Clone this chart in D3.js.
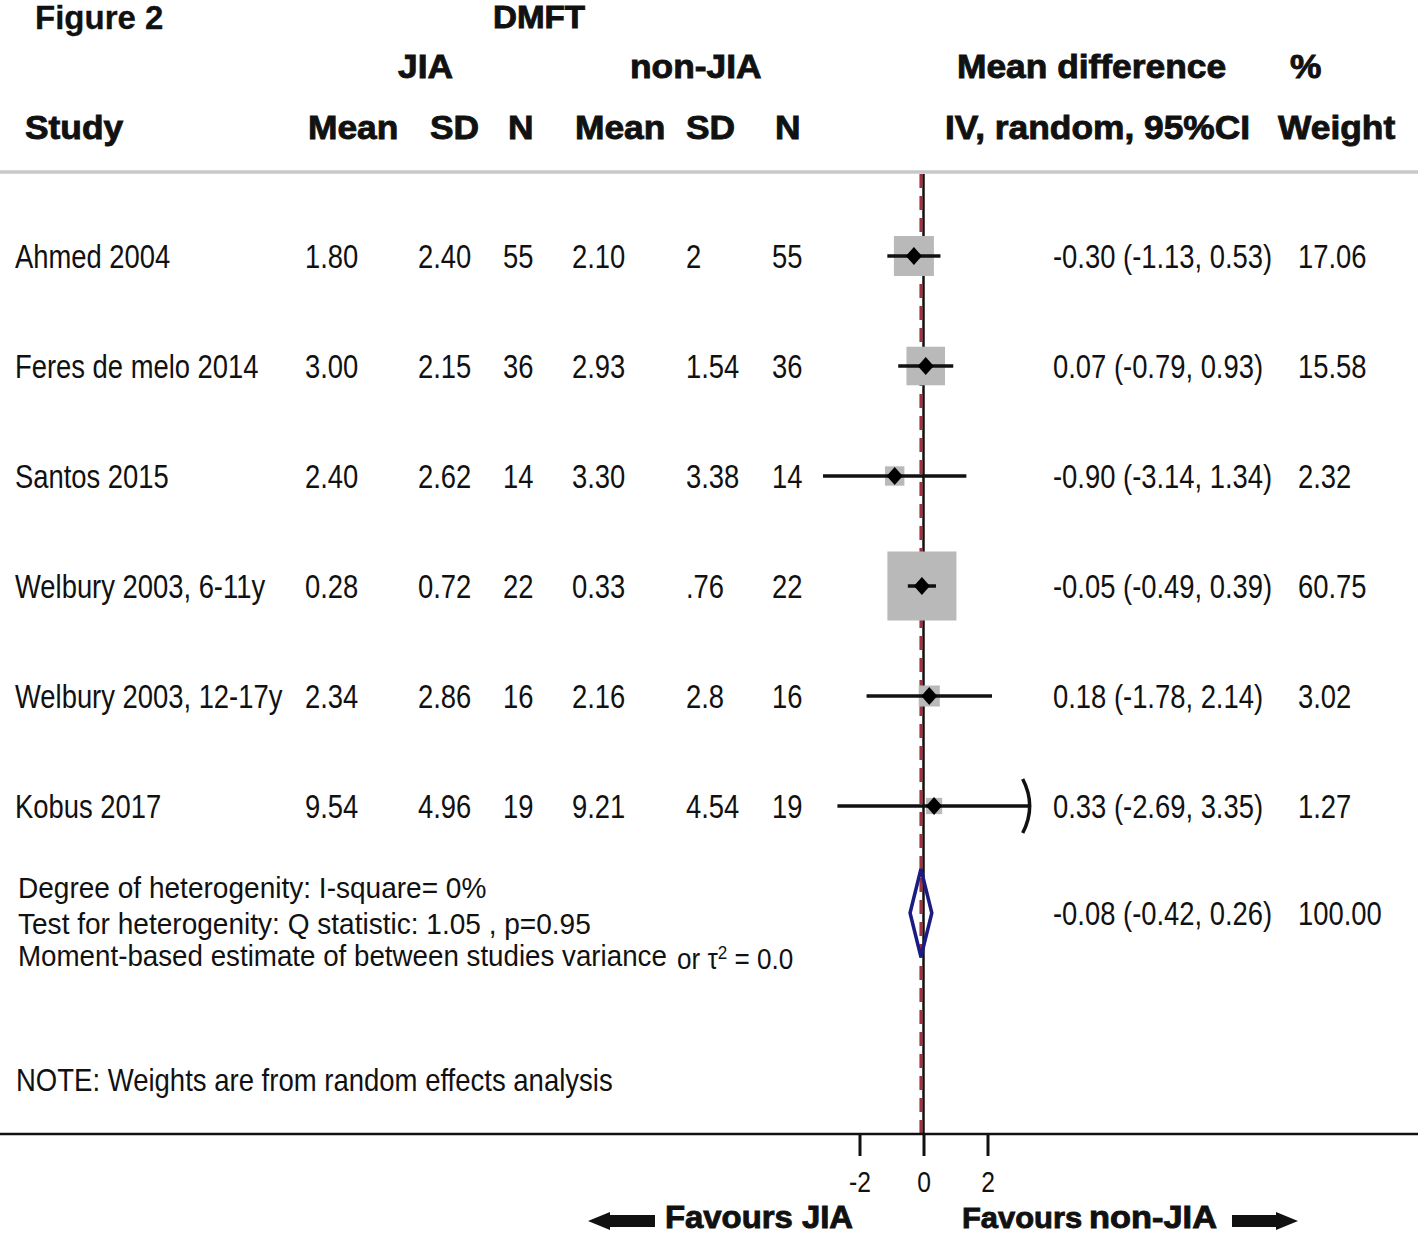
<!DOCTYPE html>
<html>
<head>
<meta charset="utf-8">
<script src="https://cdn.jsdelivr.net/npm/d3@7"></script>
<style>
html,body{margin:0;padding:0;background:#fff;}
svg{display:block;}
</style>
</head>
<body>
<svg id="chart" width="1418" height="1235"></svg>
<script>
// ---------- data ----------
const studies = ["Ahmed 2004","Feres de melo 2014","Santos 2015","Welbury 2003, 6-11y","Welbury 2003, 12-17y","Kobus 2017"];
const jiaMean = ["1.80","3.00","2.40","0.28","2.34","9.54"];
const jiaSD   = ["2.40","2.15","2.62","0.72","2.86","4.96"];
const jiaN    = ["55","36","14","22","16","19"];
const nonMean = ["2.10","2.93","3.30","0.33","2.16","9.21"];
const nonSD   = ["2","1.54","3.38",".76","2.8","4.54"];
const nonN    = ["55","36","14","22","16","19"];
const md      = [-0.30, 0.07, -0.90, -0.05, 0.18, 0.33];
const ciLow   = [-1.13, -0.79, -3.14, -0.49, -1.78, -2.69];
const ciHigh  = [0.53, 0.93, 1.34, 0.39, 2.14, 3.35];
const weights = [17.06, 15.58, 2.32, 60.75, 3.02, 1.27];
const pooled  = {md: -0.08, lo: -0.42, hi: 0.26, w: 100.00};
const tickVals = [-2, 0, 2];
const tickLabels = ["-2", "0", "2"];
const hetLines = ["Degree of heterogenity: I-square= 0%",
                  "Test for heterogenity: Q statistic: 1.05 , p=0.95",
                  "Moment-based estimate of between studies variance"];
const noteText = "NOTE: Weights are from random effects analysis";

// ---------- setup ----------
const svg = d3.select("#chart");
const W = 1418;
const x = d3.scaleLinear().domain([-2, 2]).range([859.5, 987.5]);
const y = d3.scaleLinear().domain([0, 6]).range([256, 916]);
const box = d3.scaleSqrt().domain([0, 100]).range([7.3, 86.5]);
const fmt2 = d3.format(".2f");
const fmtCI = v => (v < 0 ? "-" : "") + fmt2(Math.abs(v));

const BODY = "'Liberation Sans', Arial, sans-serif";
function txt(g, s, tx, ty, o = {}) {
  const t = g.append("text")
    .attr("transform", `translate(${tx},${ty}) scale(${o.sx ?? 0.83},1)`)
    .attr("font-family", BODY)
    .attr("font-size", o.size ?? 33)
    .attr("font-weight", o.bold ? "bold" : "normal")
    .attr("text-anchor", o.anchor ?? "start")
    .attr("fill", "#111")
    .text(s);
  if (o.bold) t.attr("stroke", "#111").attr("stroke-width", o.sw ?? 0.9);
  return t;
}

// ---------- header ----------
const hg = svg.append("g");
txt(hg, "Figure 2", 35, 29, {bold: true, size: 33, sx: 1.0, sw: 0.3});
txt(hg, "DMFT", 493, 28, {bold: true, size: 31, sx: 1.07});
const h1 = [["JIA", 398], ["non-JIA", 630], ["Mean difference", 957], ["%", 1290]];
h1.forEach(([s, px]) => txt(hg, s, px, 78, {bold: true, size: 34, sx: 1.04}));
const h2 = [["Study", 25], ["Mean", 308], ["SD", 430], ["N", 508], ["Mean", 575], ["SD", 686], ["N", 775], ["IV, random, 95%CI", 945], ["Weight", 1278]];
h2.forEach(([s, px]) => txt(hg, s, px, 139, {bold: true, size: 34, sx: 1.04}));

// top separator
svg.append("line").attr("x1", 0).attr("x2", W).attr("y1", 172).attr("y2", 172)
  .attr("stroke", "#c8c8c8").attr("stroke-width", 3.5);

// ---------- reference lines ----------
svg.append("line").attr("x1", x(0)).attr("x2", x(0)).attr("y1", 174).attr("y2", 1134)
  .attr("stroke", "#111").attr("stroke-width", 2.5);
svg.append("line").attr("x1", x(pooled.md)).attr("x2", x(pooled.md)).attr("y1", 174).attr("y2", 1134)
  .attr("stroke", "#a3303f").attr("stroke-width", 3).attr("stroke-dasharray", "14,8");

// ---------- rows ----------
const rows = svg.append("g");
studies.forEach((s, i) => {
  const ry = y(i);
  const by = ry + 12;
  txt(rows, s, 15, by);
  txt(rows, jiaMean[i], 305, by);
  txt(rows, jiaSD[i], 418, by);
  txt(rows, jiaN[i], 503, by);
  txt(rows, nonMean[i], 572, by);
  txt(rows, nonSD[i], 686, by);
  txt(rows, nonN[i], 772, by);
  txt(rows, `${fmtCI(md[i])} (${fmtCI(ciLow[i])}, ${fmtCI(ciHigh[i])})`, 1053, by);
  txt(rows, fmt2(weights[i]), 1298, by);

  const side = box(weights[i]);
  rows.append("rect")
    .attr("x", x(md[i]) - side / 2).attr("y", ry - side / 2)
    .attr("width", side).attr("height", side)
    .attr("fill", "#b9b9b9");
  rows.append("line")
    .attr("x1", x(ciLow[i])).attr("x2", x(ciHigh[i]))
    .attr("y1", ry).attr("y2", ry)
    .attr("stroke", "#111").attr("stroke-width", 3.5);
  const cx = x(md[i]);
  rows.append("path")
    .attr("d", `M${cx - 8},${ry} L${cx},${ry - 9} L${cx + 8},${ry} L${cx},${ry + 9} Z`)
    .attr("fill", "#000");
  if (i === studies.length - 1) {
    const ex = x(ciHigh[i]);
    rows.append("path")
      .attr("d", `M${ex - 8},${ry - 27} Q${ex + 6},${ry} ${ex - 8},${ry + 27}`)
      .attr("fill", "none").attr("stroke", "#111").attr("stroke-width", 3.5);
  }
});

// pooled
const py = y(6) - 3;
svg.append("path")
  .attr("d", `M${x(pooled.lo)},${py} L${x(pooled.md)},${py - 44} L${x(pooled.hi)},${py} L${x(pooled.md)},${py + 44} Z`)
  .attr("fill", "none").attr("stroke", "#1c1c80").attr("stroke-width", 3.5);
txt(rows, `${fmtCI(pooled.md)} (${fmtCI(pooled.lo)}, ${fmtCI(pooled.hi)})`, 1053, py + 12);
txt(rows, fmt2(pooled.w), 1298, py + 12);

// heterogeneity text
const het = svg.append("g");
txt(het, hetLines[0], 18, 898, {size: 30, sx: 0.935});
txt(het, hetLines[1], 18, 934, {size: 30, sx: 0.935});
txt(het, hetLines[2], 18, 966, {size: 30, sx: 0.925});
const tau = het.append("text")
  .attr("transform", "translate(677,969) scale(0.9,1)")
  .attr("font-family", BODY).attr("font-size", 29).attr("fill", "#111");
tau.append("tspan").text("or \u03C4");
tau.append("tspan").attr("font-size", 19).attr("dy", -10).text("2");
tau.append("tspan").attr("dy", 10).text(" = 0.0");

txt(svg, noteText, 16, 1091, {size: 32, sx: 0.86});

// ---------- axis ----------
svg.append("line").attr("x1", 0).attr("x2", W).attr("y1", 1134).attr("y2", 1134)
  .attr("stroke", "#111").attr("stroke-width", 2.5);
const ax = svg.append("g").attr("transform", "translate(0,1134)")
  .call(d3.axisBottom(x).tickValues(tickVals).tickSize(22).tickPadding(10)
        .tickFormat((d, i) => tickLabels[i]));
ax.select(".domain").remove();
ax.selectAll(".tick line").attr("stroke", "#111").attr("stroke-width", 3);
ax.selectAll(".tick text")
  .attr("font-family", BODY).attr("font-size", 29).attr("fill", "#111")
  .attr("transform", "scale(0.85,1)").attr("dy", "0.9em");

// ---------- favours labels ----------
const fav = svg.append("g");
txt(fav, "Favours JIA", 665, 1228, {bold: true, size: 31, sx: 1.06, sw: 0.9});
txt(fav, "Favours", 962, 1228, {bold: true, size: 30, sx: 1.03, sw: 0.9});
txt(fav, "non-JIA", 1089, 1228, {bold: true, size: 31, sx: 1.11, sw: 0.9});
function arrow(tip, end, cy) {
  const dir = end > tip ? 1 : -1;
  const h = tip + dir * 22;
  return `M${tip},${cy} L${h},${cy - 9} L${h},${cy - 6} L${end},${cy - 6} L${end},${cy + 6} L${h},${cy + 6} L${h},${cy + 9} Z`;
}
fav.append("path").attr("d", arrow(588, 655, 1221)).attr("fill", "#111");
fav.append("path").attr("d", arrow(1298, 1232, 1221)).attr("fill", "#111");
</script>
</body>
</html>
